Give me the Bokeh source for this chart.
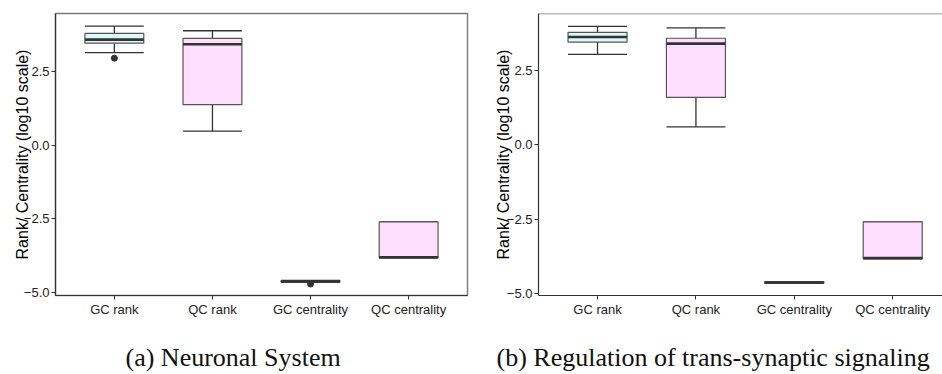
from bokeh.plotting import figure
from bokeh.layouts import row
from bokeh.models import FixedTicker, Span, Title, Range1d
from bokeh.embed import file_html
from bokeh.resources import INLINE

categories = ["GC rank", "QC rank", "GC centrality", "QC centrality"]
box_fill = ["#DDF9FA", "#FFDFFD", "#DDF9FA", "#FFDFFD"]

y_ticks = [-5.0, -2.5, 0.0, 2.5]
y_tick_labels = ["\u22125.0", "\u22122.5", "0.0", "2.5"]
y_title = "Rank/ Centrality (log10 scale)"

# (a) Neuronal System
a_lower = [3.14, 0.47, -4.66, -3.83]
a_q1 = [3.46, 1.37, -4.66, -3.83]
a_med = [3.58, 3.42, -4.63, -3.81]
a_q3 = [3.79, 3.62, -4.60, -2.61]
a_upper = [4.04, 3.88, -4.60, -2.61]
a_out_cat = ["GC rank", "GC centrality"]
a_out_val = [2.95, -4.72]
a_caption = "(a) Neuronal System"

# (b) Regulation of trans-synaptic signaling
b_lower = [3.04, 0.60, -4.66, -3.83]
b_q1 = [3.45, 1.59, -4.66, -3.83]
b_med = [3.62, 3.40, -4.63, -3.81]
b_q3 = [3.78, 3.58, -4.60, -2.59]
b_upper = [3.98, 3.93, -4.60, -2.59]
b_out_cat = []
b_out_val = []
b_caption = "(b) Regulation of trans-synaptic signaling"

HALF = 0.3
DARK = "#333333"


def panel(width, left_border, right_border, xr, yr, lower, q1, med, q3, upper,
          out_cat, out_val, caption, cap_offset, label_standoff, full_box):
    p = figure(width=width, height=374, output_backend="svg", toolbar_location=None,
               x_range=Range1d(*xr), y_range=Range1d(*yr),
               min_border_left=left_border, min_border_right=right_border,
               min_border_top=13, min_border_bottom=79)
    pos = [i + 1 for i in range(len(categories))]
    lo = [x - HALF for x in pos]
    hi = [x + HALF for x in pos]
    # whiskers
    p.segment(x0=pos, y0=q3, x1=pos, y1=upper, line_color=DARK, line_width=1.3)
    p.segment(x0=pos, y0=q1, x1=pos, y1=lower, line_color=DARK, line_width=1.3)
    p.segment(x0=lo, y0=upper, x1=hi, y1=upper, line_color=DARK, line_width=1.3)
    p.segment(x0=lo, y0=lower, x1=hi, y1=lower, line_color=DARK, line_width=1.3)
    # boxes
    p.quad(left=lo, right=hi, bottom=q1, top=q3, fill_color=box_fill,
           line_color="#555555", line_width=1.2)
    # medians
    p.segment(x0=lo, y0=med, x1=hi, y1=med, line_color=DARK, line_width=2.6)
    # outliers
    if out_cat:
        ox = [categories.index(c) + 1 for c in out_cat]
        p.scatter(x=ox, y=out_val, size=6, color=DARK)

    p.grid.visible = False
    p.background_fill_color = "white"
    p.border_fill_color = "white"
    if full_box:
        p.outline_line_color = "#7a7a7a"
        p.outline_line_width = 1.4
    else:
        p.outline_line_color = None
        p.add_layout(Span(location=yr[1], dimension="width",
                          line_color="#7a7a7a", line_width=1.4))

    p.xaxis.ticker = FixedTicker(ticks=pos)
    p.xaxis.major_label_overrides = {x: c for x, c in zip(pos, categories)}
    p.yaxis.ticker = FixedTicker(ticks=y_ticks)
    p.yaxis.major_label_overrides = {t: l for t, l in zip(y_ticks, y_tick_labels)}
    for ax in (p.xaxis, p.yaxis):
        ax.axis_line_color = DARK
        ax.axis_line_width = 1.2
        ax.major_tick_line_color = DARK
        ax.major_tick_in = 0
        ax.major_tick_out = 4
        ax.minor_tick_line_color = None
        ax.major_label_standoff = 2
        ax.major_label_text_font = "Liberation Sans"
        ax.major_label_text_font_size = "13px"
        ax.major_label_text_color = "#222222"
    p.yaxis.axis_label = y_title
    p.yaxis.axis_label_text_font = "Liberation Sans"
    p.yaxis.axis_label_text_font_size = "16px"
    p.yaxis.axis_label_text_font_style = "normal"
    p.yaxis.axis_label_text_color = "black"
    p.yaxis.axis_label_standoff = label_standoff
    # blank x-axis label used only as vertical spacing before the caption
    p.xaxis.axis_label = " "
    p.xaxis.axis_label_text_font_size = "10px"
    p.xaxis.axis_label_standoff = 5

    t = Title(text=caption, align="left", offset=cap_offset, standoff=4,
              text_font="Liberation Serif", text_font_size="26px",
              text_font_style="normal", text_color="#111111")
    p.add_layout(t, "below")
    return p


p1 = panel(470, 55, 3, (0.4, 4.6), (-5.11, 4.466), a_lower, a_q1, a_med, a_q3, a_upper,
           a_out_cat, a_out_val, a_caption, 70, -10, True)
p2 = panel(472, 68, 0, (0.4, 4.506), (-5.067, 4.412), b_lower, b_q1, b_med, b_q3, b_upper,
           b_out_cat, b_out_val, b_caption, -42, -8, False)

layout = row(p1, p2)
open("out.html", "w").write(file_html(layout, INLINE))
